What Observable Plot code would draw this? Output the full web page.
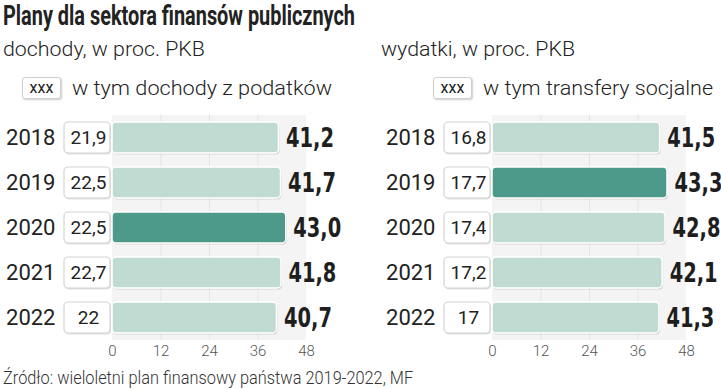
<!DOCTYPE html>
<html>
<head>
<meta charset="utf-8">
<script src="https://cdn.jsdelivr.net/npm/d3@7"></script>
<script src="https://cdn.jsdelivr.net/npm/@observablehq/plot@0.6"></script>
<style>
  html, body { margin: 0; padding: 0; background: #fff; }
  body { width: 721px; height: 389px; position: relative; overflow: hidden; font-family: Roboto, sans-serif; color: #222; }
  .abs { position: absolute; white-space: nowrap; }
  .fit { display: inline-block; transform-origin: 0 50%; white-space: nowrap; }
  .title { left: 3px; top: 0px; font-weight: bold; font-size: 27px; color: #222; }
  .sub { top: 37px; font-size: 21px; font-weight: 300; color: #222; }
  .legend { top: 76px; font-size: 21px; font-weight: 300; display: flex; align-items: center; }
  .legend .box { display: inline-block; width: 37px; height: 20px; border: 1.5px solid #cfcfcf; border-radius: 3px; box-shadow: 1px 1px 2px rgba(0,0,0,0.2); text-align: center; font-size: 16px; font-weight: 400; line-height: 20px; margin-right: 11px; background: #fff; }
  .footer { left: 3px; top: 367px; font-size: 18px; font-weight: 300; color: #333; }
  .panel { position: absolute; top: 112px; }
</style>
</head>
<body>
<div class="abs title"><span class="fit" data-w="352">Plany dla sektora finansów publicznych</span></div>
<div class="abs sub" style="left:3px"><span class="fit" data-w="202">dochody, w proc. PKB</span></div>
<div class="abs sub" style="left:381px"><span class="fit" data-w="194">wydatki, w proc. PKB</span></div>
<div class="abs legend" style="left:22px"><span class="box">xxx</span><span class="fit" data-w="260">w tym dochody z podatków</span></div>
<div class="abs legend" style="left:433px"><span class="box">xxx</span><span class="fit" data-w="230">w tym transfery socjalne</span></div>
<div class="panel" id="left" style="left:0px"></div>
<div class="panel" id="right" style="left:380px"></div>
<div class="abs footer"><span class="fit" data-w="410">Źródło: wieloletni plan finansowy państwa 2019-2022, MF</span></div>
<script>
const years = ["2018", "2019", "2020", "2021", "2022"];
const dochody = [41.2, 41.7, 43.0, 41.8, 40.7];
const podatki = [21.9, 22.5, 22.5, 22.7, 22];
const wydatki = [41.5, 43.3, 42.8, 42.1, 41.3];
const transfery = [16.8, 17.7, 17.4, 17.2, 17];
const highlightDochody = "2020";
const highlightWydatki = "2019";
const xTicks = [0, 12, 24, 36, 48];
const gridTicks = [12, 24, 36];

const narrow = '"DejaVu Sans Condensed", sans-serif';
const fmtSub = v => String(v).replace(".", ",");
const fmtTotal = v => v.toFixed(1).replace(".", ",");

function panel(totals, subs, highlight) {
  const data = years.map((y, i) => ({year: y, total: totals[i], sub: subs[i], hi: y === highlight}));
  return Plot.plot({
    width: 341,
    height: 250,
    marginLeft: 112,
    marginRight: 35,
    marginTop: 2.5,
    marginBottom: 22.5,
    x: {domain: [0, 48]},
    y: {domain: years, padding: 0},
    style: {fontFamily: "Roboto, sans-serif", background: "transparent", overflow: "visible", color: "#222"},
    marks: [
      Plot.barX(data, {x1: () => 0, x2: () => 48, y: "year", fill: "#f4f4f4"}),
      Plot.ruleX(gridTicks, {stroke: "#e4e4e4", strokeWidth: 1}),
      Plot.barX(data, {x1: () => 0, x2: "total", y: "year", insetTop: 7, insetBottom: 7, rx: 4, fill: "#000", fillOpacity: 0.13, dx: 1, dy: 1.5}),
      Plot.barX(data, {x1: () => 0, x2: "total", y: "year", insetTop: 7, insetBottom: 7, rx: 4,
        fill: d => d.hi ? "#4e9a8a" : "#c0dcd2", stroke: "#fff", strokeWidth: 1.5}),
      Plot.barX(data, {x1: () => 0, x2: () => 0, y: "year", insetLeft: -48, insetRight: 2, insetTop: 7, insetBottom: 7, rx: 4,
        fill: "#000", fillOpacity: 0.12, dx: 1, dy: 1.5}),
      Plot.barX(data, {x1: () => 0, x2: () => 0, y: "year", insetLeft: -48, insetRight: 2, insetTop: 7, insetBottom: 7, rx: 4,
        fill: "#fff", stroke: "#d4d4d4", strokeWidth: 1.2}),
      Plot.text(data, {x: () => 0, y: "year", text: d => fmtSub(d.sub), dx: -24, fontSize: 19, fill: "#222"}),
      Plot.text(data, {x: "total", y: "year", text: d => fmtTotal(d.total), textAnchor: "start", dx: 7,
        fontSize: 27, fontWeight: "bold", fontFamily: narrow, fill: "#1e1e1e"}),
      Plot.axisX(xTicks, {tickSize: 0, tickPadding: 5, fontSize: 15, fontWeight: 300, fill: "#555", label: null, tickFormat: d => String(d)}),
      Plot.axisY({tickSize: 0, tickPadding: 57, fontSize: 22, fill: "#222", label: null})
    ]
  });
}

document.getElementById("left").append(panel(dochody, podatki, highlightDochody));
document.getElementById("right").append(panel(wydatki, transfery, highlightWydatki));

// condense bold totals horizontally to match the narrow display face
document.querySelectorAll('.panel svg g[font-weight="bold"] text').forEach(t => {
  const tr = t.getAttribute("transform") || "";
  t.setAttribute("transform", tr + " scale(0.8,1)");
});
// fit HTML texts to the reference widths
document.querySelectorAll(".fit").forEach(el => {
  const w = el.getBoundingClientRect().width;
  const target = +el.dataset.w;
  if (w > 0) el.style.transform = `scaleX(${(target / w).toFixed(3)})`;
});
</script>
</body>
</html>
